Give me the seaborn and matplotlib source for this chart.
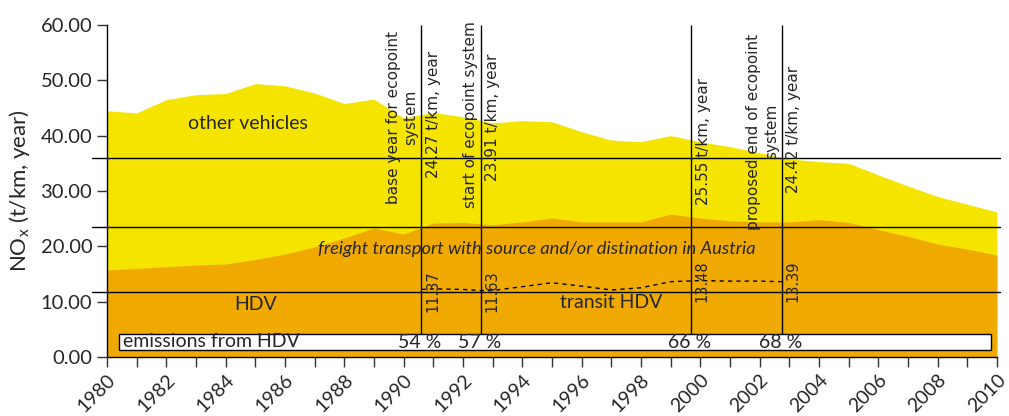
import numpy as np
import pandas as pd
import matplotlib
matplotlib.use("Agg")
import matplotlib.pyplot as plt
from matplotlib.patches import Rectangle
import seaborn as sns

years = list(range(1980, 2011))
other_vehicles = [44.5, 44.1, 46.5, 47.4, 47.6, 49.4, 49.0, 47.7, 45.8, 46.6, 43.2, 44.2,
                  43.4, 42.3, 42.7, 42.5, 40.7, 39.2, 38.9, 40.0, 38.9, 38.0, 36.9, 35.8,
                  35.3, 35.0, 32.9, 30.9, 29.0, 27.6, 26.2]
freight_hdv = [15.7, 16.0, 16.3, 16.6, 16.8, 17.6, 18.6, 19.9, 21.5, 23.3, 22.2, 24.2,
               24.3, 23.9, 24.4, 25.1, 24.4, 24.4, 24.4, 25.8, 25.1, 24.6, 24.4, 24.4,
               24.8, 24.3, 23.0, 21.8, 20.4, 19.5, 18.4]
transit_years = [1990.6, 1991, 1992, 1992.6, 1993, 1994, 1995, 1996, 1997, 1998, 1999,
                 2000, 2001, 2002, 2002.75]
transit_hdv = [12.2, 12.3, 12.2, 12.0, 12.0, 12.7, 13.4, 12.8, 12.1, 12.5, 13.6, 13.8,
               13.7, 13.7, 13.6]

marker_years = [1990.6, 1992.6, 1999.7, 2002.75]
marker_left = ["base year for ecopoint\nsystem", "start of ecopoint system", "",
               "proposed end of ecopoint\nsystem"]
marker_total = ["24.27 t/km, year", "23.91 t/km, year", "25.55 t/km, year", "24.42 t/km, year"]
marker_transit = ["11.37", "11.63", "13.48", "13.39"]
marker_share = ["54 %", "57 %", "66 %", "68 %"]
h_levels = [36.0, 23.5, 11.75]

yellow = "#F5E400"
orange = "#F0A900"

sns.set_style("ticks")
plt.rcParams["font.family"] = ["Lato", "DejaVu Sans"]
dv = ["DejaVu Sans"]

df = pd.DataFrame({"year": years, "other": other_vehicles, "freight": freight_hdv})
transit = pd.DataFrame({"year": transit_years, "value": transit_hdv})

fig = plt.figure(figsize=(10.09, 4.16), dpi=100)
ax = fig.add_axes([0.106, 0.142, 0.882, 0.798])

ax.fill_between(df["year"], 0, df["other"], color=yellow, lw=0)
ax.fill_between(df["year"], 0, df["freight"], color=orange, lw=0)
sns.lineplot(data=transit, x="year", y="value", ax=ax, color="black", lw=1,
             linestyle=(0, (3, 3)))

for lv in h_levels:
    ax.plot([1979.5, 2010.1], [lv, lv], color="black", lw=1, clip_on=False)

ax.add_patch(Rectangle((1980.4, 1.3), 29.4, 2.9, facecolor="white", edgecolor="black", lw=1))
ax.text(1980.55, 2.7, "emissions from HDV", fontsize=14, va="center", ha="left")

left_y = [43.3, 43.8, 0, 40.7]
total_y = [32.4, 31.8, 27.5, 29.7]
transit_y = [8.1, 8.1, 9.9, 9.9]
for i, x in enumerate(marker_years):
    ax.vlines(x, 4.2, 60, color="black", lw=1)
    if marker_left[i]:
        ax.text(x - 0.1, left_y[i], marker_left[i], rotation=90, ha="right", va="center",
                multialignment="center", fontsize=11, family=dv)
    ax.text(x + 0.15, total_y[i], marker_total[i], rotation=90, ha="left", va="bottom",
            fontsize=11, family=dv)
    ax.text(x + 0.12, transit_y[i], marker_transit[i], rotation=90, ha="left", va="bottom",
            fontsize=10.5, family=dv)
    ax.text(x - 0.05, 2.6, marker_share[i], ha="center", va="center", fontsize=14)

ax.text(1984.75, 42.1, "other vehicles", ha="center", va="center", fontsize=14)
ax.text(1994.5, 19.5, "freight transport with source and/or distination in Austria",
        ha="center", va="center", fontsize=13.2, style="italic")
ax.text(1985, 9.4, "HDV", ha="center", va="center", fontsize=14)
ax.text(1997, 9.8, "transit HDV", ha="center", va="center", fontsize=14)

ax.set_xlim(1980, 2010)
ax.set_ylim(0, 60)
ax.set_xticks(years, minor=True)
ax.set_xticks(range(1980, 2011, 2))
ax.set_xticklabels([str(y) for y in range(1980, 2011, 2)], rotation=45, ha="right",
                   rotation_mode="anchor", fontsize=14)
ax.set_yticks(range(0, 61, 10))
ax.set_yticklabels([f"{v:.2f}" for v in range(0, 61, 10)], fontsize=14.5)
ax.tick_params(axis="both", which="both", direction="out", length=7, width=1, color="#333333")
ax.set_xlabel("")
ax.set_ylabel("NO$_\\mathregular{x}$ (t/km, year)", fontsize=16, labelpad=6)
sns.despine(ax=ax, right=True, top=True)
for s in ["left", "bottom"]:
    ax.spines[s].set_color("black")
    ax.spines[s].set_linewidth(1)

fig.savefig("out.png", dpi=100)
